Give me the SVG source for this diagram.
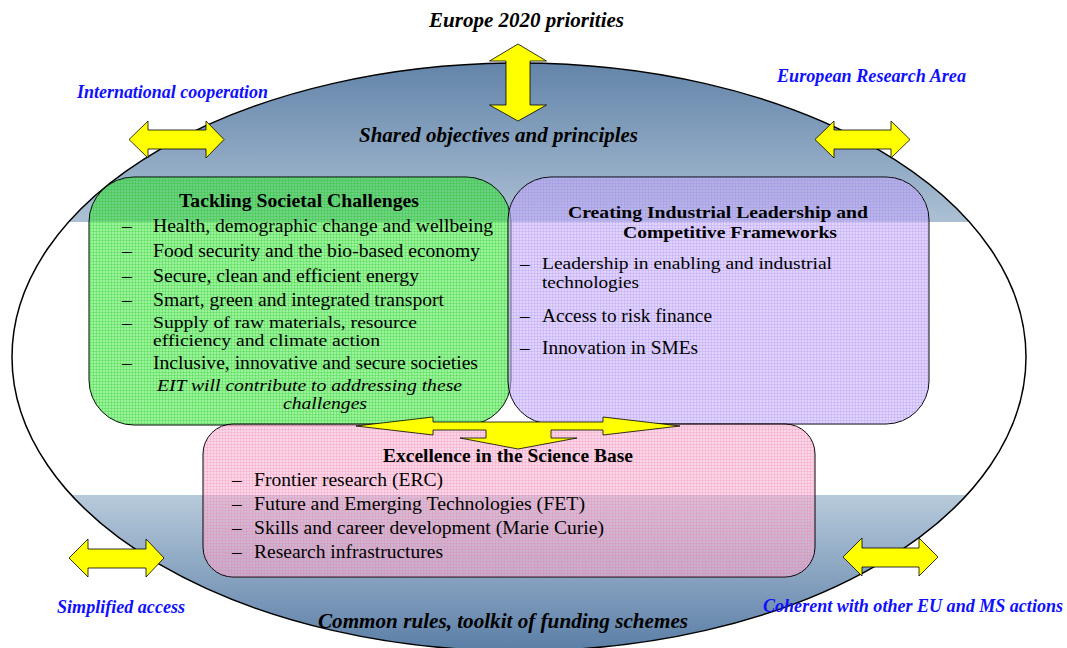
<svg xmlns="http://www.w3.org/2000/svg" width="1067" height="648" viewBox="0 0 1067 648">
  <defs>
    <linearGradient id="ellGrad" gradientUnits="userSpaceOnUse" x1="0" y1="63" x2="0" y2="651">
      <stop offset="0" stop-color="#6384a9"/>
      <stop offset="0.2704" stop-color="#abc0d4"/>
      <stop offset="0.2704" stop-color="#ffffff"/>
      <stop offset="0.7347" stop-color="#ffffff"/>
      <stop offset="0.7347" stop-color="#b7cadb"/>
      <stop offset="1" stop-color="#5b7ea6"/>
    </linearGradient>
    <pattern id="gridG" width="3" height="3" patternUnits="userSpaceOnUse">
      <path d="M0 0.5H3M0.5 0V3" stroke="#10c010" stroke-width="0.7" stroke-opacity="0.35" fill="none"/>
    </pattern>
    <pattern id="gridP" width="3" height="3" patternUnits="userSpaceOnUse">
      <path d="M0 0.5H3M0.5 0V3" stroke="#9a78f0" stroke-width="0.7" stroke-opacity="0.3" fill="none"/>
    </pattern>
    <pattern id="gridK" width="3" height="3" patternUnits="userSpaceOnUse">
      <path d="M0 0.5H3M0.5 0V3" stroke="#f070a8" stroke-width="0.7" stroke-opacity="0.3" fill="none"/>
    </pattern>
    <style>
      .item { font-family: "Liberation Serif", "Times New Roman", serif; font-size: 19.5px; fill: #000; }
      .tight { font-family: "Liberation Serif", "Times New Roman", serif; font-size: 16px; fill: #000; }
      .title { font-family: "Liberation Serif", "Times New Roman", serif; font-size: 19.5px; font-weight: bold; fill: #000; }
      .title2 { font-family: "Liberation Serif", "Times New Roman", serif; font-size: 17px; font-weight: bold; fill: #000; }
      .eit { font-family: "Liberation Serif", "Times New Roman", serif; font-size: 16px; font-style: italic; fill: #000; }
      .head { font-family: "Liberation Serif", "Times New Roman", serif; font-size: 21px; font-weight: bold; font-style: italic; fill: #000; }
      .lbl { font-family: "Liberation Serif", "Times New Roman", serif; font-size: 18px; font-weight: bold; font-style: italic; fill: #1010ff; }
      .box { stroke: #000; stroke-width: 1; }
      .green { fill: #3ee83e; fill-opacity: 0.52; }
      .purple { fill: #c4aef8; fill-opacity: 0.55; }
      .pink { fill: #f8b4d2; fill-opacity: 0.55; }
      .arrow { fill: #ffff00; stroke: #000; stroke-width: 0.8; stroke-linejoin: miter; }
    </style>
  </defs>

  <rect x="0" y="0" width="1067" height="648" fill="#ffffff"/>

  <g id="frame">
    <ellipse cx="519" cy="357" rx="507" ry="294" fill="url(#ellGrad)" stroke="#000" stroke-width="1.5"/>
    <text class="head" x="359" y="142" textLength="279" lengthAdjust="spacingAndGlyphs">Shared objectives and principles</text>
    <text class="head" x="318" y="628" textLength="370" lengthAdjust="spacingAndGlyphs">Common rules, toolkit of funding schemes</text>
  </g>

  <g id="europe2020">
    <text class="head" x="429" y="27" textLength="195" lengthAdjust="spacingAndGlyphs">Europe 2020 priorities</text>
  </g>
  <g id="intl-coop">
    <text class="lbl" x="77" y="98" textLength="191" lengthAdjust="spacingAndGlyphs">International cooperation</text>
  </g>
  <g id="era">
    <text class="lbl" x="777" y="82" textLength="189" lengthAdjust="spacingAndGlyphs">European Research Area</text>
  </g>
  <g id="simplified">
    <text class="lbl" x="57" y="613" textLength="128" lengthAdjust="spacingAndGlyphs">Simplified access</text>
  </g>
  <g id="coherent">
    <text class="lbl" x="763" y="612" textLength="300" lengthAdjust="spacingAndGlyphs">Coherent with other EU and MS actions</text>
  </g>

  <g id="societal">
    <rect class="box green" x="89" y="177" width="422" height="248" rx="45" ry="45"/>
    <rect x="89" y="177" width="422" height="248" rx="45" ry="45" fill="url(#gridG)"/>
    <text class="title" x="179" y="207" textLength="240" lengthAdjust="spacingAndGlyphs">Tackling Societal Challenges</text>
    <g class="item">
      <text x="122" y="232">–</text><text x="153" y="232" textLength="340" lengthAdjust="spacingAndGlyphs">Health, demographic change and wellbeing</text>
      <text x="122" y="257">–</text><text x="153" y="257" textLength="327" lengthAdjust="spacingAndGlyphs">Food security and the bio-based economy</text>
      <text x="122" y="282">–</text><text x="153" y="282" textLength="266" lengthAdjust="spacingAndGlyphs">Secure, clean and efficient energy</text>
      <text x="122" y="306">–</text><text x="153" y="306" textLength="291" lengthAdjust="spacingAndGlyphs">Smart, green and integrated transport</text>
      <text x="122" y="329">–</text>
      <text x="122" y="369">–</text><text x="153" y="369" textLength="325" lengthAdjust="spacingAndGlyphs">Inclusive, innovative and secure societies</text>
    </g>
    <text class="tight" x="153" y="328" textLength="264" lengthAdjust="spacingAndGlyphs">Supply of raw materials, resource</text>
    <text class="tight" x="153" y="346" textLength="227" lengthAdjust="spacingAndGlyphs">efficiency and climate action</text>
    <text class="eit" x="157" y="391" textLength="305" lengthAdjust="spacingAndGlyphs">EIT will contribute to addressing these</text>
    <text class="eit" x="283" y="409" textLength="84" lengthAdjust="spacingAndGlyphs">challenges</text>
  </g>

  <g id="industrial">
    <rect class="box purple" x="508" y="177" width="421" height="247" rx="43" ry="43"/>
    <rect x="508" y="177" width="421" height="247" rx="43" ry="43" fill="url(#gridP)"/>
    <text class="title2" x="568" y="218" textLength="300" lengthAdjust="spacingAndGlyphs">Creating Industrial Leadership and</text>
    <text class="title2" x="623" y="238" textLength="214" lengthAdjust="spacingAndGlyphs">Competitive Frameworks</text>
    <g class="item">
      <text x="520" y="270">–</text>
      <text x="520" y="322">–</text><text x="542" y="322" textLength="170" lengthAdjust="spacingAndGlyphs">Access to risk finance</text>
      <text x="520" y="354">–</text><text x="542" y="354" textLength="156" lengthAdjust="spacingAndGlyphs">Innovation in SMEs</text>
    </g>
    <text class="tight" x="542" y="269" textLength="290" lengthAdjust="spacingAndGlyphs">Leadership in enabling and industrial</text>
    <text class="tight" x="542" y="288" textLength="97" lengthAdjust="spacingAndGlyphs">technologies</text>
  </g>

  <g id="excellence">
    <rect class="box pink" x="203" y="424" width="612" height="153" rx="30" ry="30"/>
    <rect x="203" y="424" width="612" height="153" rx="30" ry="30" fill="url(#gridK)"/>
    <text class="title" x="383" y="462" textLength="250" lengthAdjust="spacingAndGlyphs">Excellence in the Science Base</text>
    <g class="item">
      <text x="232" y="486">–</text><text x="254" y="486" textLength="189" lengthAdjust="spacingAndGlyphs">Frontier research (ERC)</text>
      <text x="232" y="510">–</text><text x="254" y="510" textLength="331" lengthAdjust="spacingAndGlyphs">Future and Emerging Technologies (FET)</text>
      <text x="232" y="534">–</text><text x="254" y="534" textLength="350" lengthAdjust="spacingAndGlyphs">Skills and career development (Marie Curie)</text>
      <text x="232" y="558">–</text><text x="254" y="558" textLength="189" lengthAdjust="spacingAndGlyphs">Research infrastructures</text>
    </g>
  </g>

  <g id="connectors">
    <polygon class="arrow" points="518,44 546.5,61 530,61 530,105 546.5,105 518,121 489.5,105 506,105 506,61 489.5,61"/>
    <polygon class="arrow" points="129,139.5 148,121 148,130 206,130 206,121 224,139.5 206,158 206,149 148,149 148,158"/>
    <polygon class="arrow" points="815,139.5 834,121 834,130 891,130 891,121 910,139.5 891,158 891,149 834,149 834,158"/>
    <polygon class="arrow" points="69,558 88,539 88,549 146,549 146,539 164,558 146,577 146,568 88,568 88,577"/>
    <polygon class="arrow" points="843,557 862,538 862,548 919,548 919,538 938,557 919,576 919,567 862,567 862,576"/>
    <polygon class="arrow" points="356,426 433,417 433,422 603,422 603,417 680,426 603,435 603,430 551,430 551,438 577,438 518,449 460,438 486,438 486,430 433,430 433,435"/>
  </g>
</svg>
